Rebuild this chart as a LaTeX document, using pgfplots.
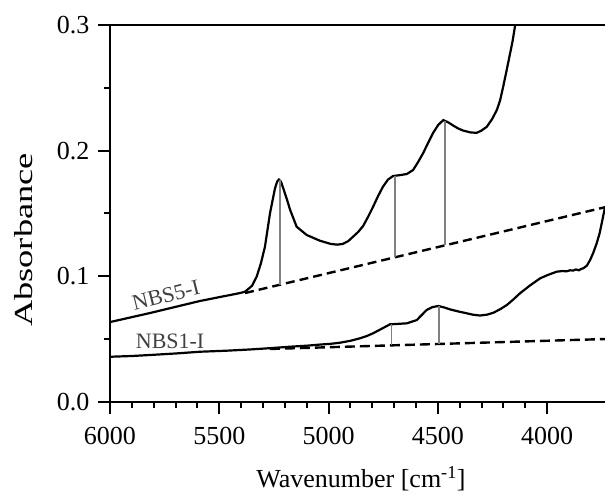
\documentclass[border=0pt]{standalone}
\usepackage{pgfplots}
\pgfplotsset{compat=1.18}
\usepackage{fontspec}
\setmainfont{Liberation Serif}

% NBS5-I spectrum (wavenumber, absorbance)
\pgfplotstableread{
w A
6000 0.0636
5817 0.0708
5588 0.0804
5405 0.0867
5382 0.0878
5350 0.0925
5329 0.0997
5310 0.1100
5291 0.1235
5268 0.1500
5245 0.1700
5235 0.1755
5227 0.1770
5218 0.1755
5207 0.1700
5190 0.1610
5176 0.1530
5146 0.1395
5100 0.1329
5039 0.1283
4990 0.1258
4960 0.1252
4935 0.1258
4910 0.1280
4888 0.1315
4865 0.1352
4842 0.1400
4820 0.1470
4796 0.1554
4773 0.1640
4751 0.1713
4728 0.1770
4705 0.1798
4675 0.1805
4642 0.1814
4613 0.1846
4590 0.1910
4567 0.1981
4545 0.2060
4522 0.2140
4498 0.2205
4475 0.2243
4452 0.2225
4430 0.2200
4405 0.2175
4384 0.2160
4350 0.2145
4322 0.2142
4300 0.2160
4276 0.2190
4252 0.2250
4230 0.2323
4215 0.2400
4201 0.2508
4185 0.2640
4169 0.2776
4157 0.2880
4146 0.3000
4135 0.3100
}\nbsfive

% NBS1-I spectrum (wavenumber, absorbance)
\pgfplotstableread{
w A
6000 0.0360
5900 0.0366
5817 0.0374
5700 0.0386
5588 0.0400
5470 0.0408
5359 0.0418
5270 0.0428
5176 0.0440
5100 0.0448
5039 0.0457
4990 0.0463
4947 0.0472
4900 0.0487
4856 0.0507
4825 0.0525
4796 0.0547
4760 0.0580
4719 0.0618
4680 0.0622
4642 0.0626
4596 0.0652
4575 0.0690
4551 0.0732
4525 0.0755
4497 0.0764
4470 0.0752
4444 0.0737
4405 0.0720
4368 0.0706
4340 0.0695
4307 0.0688
4275 0.0695
4246 0.0710
4215 0.0738
4184 0.0772
4155 0.0815
4124 0.0865
4080 0.0925
4032 0.0984
3995 0.1012
3956 0.1037
3930 0.1042
3910 0.1040
3895 0.1048
3880 0.1046
3868 0.1055
3855 0.1048
3843 0.1060
3834 0.1064
3818 0.1085
3803 0.1130
3788 0.1190
3773 0.1263
3760 0.1340
3750 0.1422
3742 0.1490
3735 0.1550
}\nbsone

\definecolor{guide}{HTML}{808080}
\definecolor{tag}{HTML}{404040}

\begin{document}
\begin{tikzpicture}
\begin{axis}[
  name=ax,
  scale only axis,
  width=495pt, height=377pt,
  x dir=reverse,
  xmin=3735, xmax=6000,
  ymin=0, ymax=0.3,
  axis y line*=left,
  xtick pos=left,
  xtick={4000,4500,5000,5500,6000},
  minor x tick num=4,
  ytick={0,0.1,0.2,0.3},
  minor y tick num=1,
  tick align=outside,
  major tick length=12pt,
  minor tick length=6pt,
  every tick/.style={black, line width=2pt},
  axis line style={line width=2pt},
  /pgf/number format/assume math mode=true,
  /pgf/number format/set thousands separator={},
  yticklabel style={/pgf/number format/fixed,
    /pgf/number format/fixed zerofill,
    /pgf/number format/precision=1, xshift=-5pt},
  xticklabel style={yshift=-10pt},
  tick label style={font=\fontsize{26}{30}\selectfont},
  label style={font=\fontsize{26}{30}\selectfont},
  xlabel={Wavenumber [cm\textsuperscript{-1}]},
  xlabel style={at={(axis description cs:0.507,-0.228)}, anchor=base},
  ylabel={\scalebox{1.4}[1]{Absorbance}},
  ylabel style={at={(axis description cs:-0.1737,0.4297)}, anchor=center},
  clip=true,
]
% spectra
\addplot[black, line width=2.2pt] table[x=w, y=A] {\nbsfive};
\addplot[black, line width=2.2pt] table[x=w, y=A] {\nbsone};
% baselines
\addplot[black, line width=2.4pt, dash pattern=on 9pt off 5pt]
  coordinates {(5382,0.0867) (3735,0.1550)};
\addplot[black, line width=2.4pt, dash pattern=on 10pt off 5pt]
  coordinates {(5268,0.0422) (3735,0.0501)};
% band heights above baseline
\addplot[guide, line width=1.3pt] coordinates {(5222,0.1765) (5222,0.0933)};
\addplot[guide, line width=1.3pt] coordinates {(4696,0.1800) (4696,0.1151)};
\addplot[guide, line width=1.3pt] coordinates {(4467,0.2238) (4467,0.1246)};
\addplot[guide, line width=1.3pt] coordinates {(4711,0.0620) (4711,0.0451)};
\addplot[guide, line width=1.3pt] coordinates {(4494,0.0764) (4494,0.0462)};
% sample names
\node[tag, rotate=14, font=\fontsize{22}{26}\selectfont]
  at (axis cs:5744,0.0850) {NBS5-I};
\node[tag, font=\fontsize{22}{26}\selectfont]
  at (axis cs:5725,0.0481) {NBS1-I};
\end{axis}
\pgfresetboundingbox
\path ([shift={(-110pt,-93pt)}]ax.south west) rectangle ([yshift=25pt]ax.north east);
\end{tikzpicture}
\end{document}
